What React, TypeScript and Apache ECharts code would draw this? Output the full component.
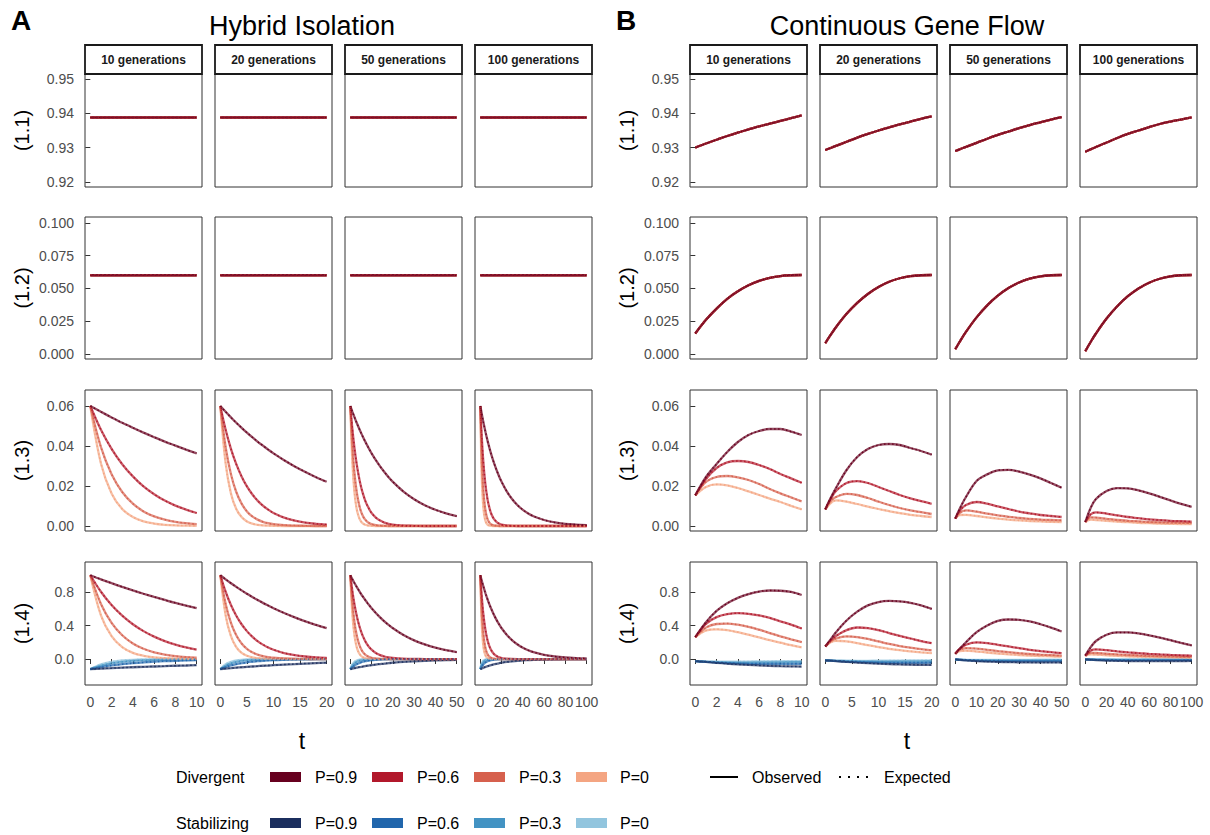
import React, { useEffect, useRef } from "react";
import * as echarts from "echarts";

// ---------- categories / ticks ----------
const spans = [10, 20, 50, 100];
const spanLabels = ["10 generations", "20 generations", "50 generations", "100 generations"];
const xTicks = [
  [0, 2, 4, 6, 8, 10],
  [0, 5, 10, 15, 20],
  [0, 10, 20, 30, 40, 50],
  [0, 20, 40, 60, 80, 100],
];
const rowLabels = ["(1.1)", "(1.2)", "(1.3)", "(1.4)"];
const yTicks = [
  [0.92, 0.93, 0.94, 0.95],
  [0, 0.025, 0.05, 0.075, 0.1],
  [0, 0.02, 0.04, 0.06],
  [0, 0.4, 0.8],
];
const yDecimals = [2, 3, 2, 1];
const yMin = [0.9185, -0.004, -0.0025, -0.31];
const yMax = [0.9515, 0.1045, 0.068, 1.158];
const pLevels = ["P=0.9", "P=0.6", "P=0.3", "P=0"];
const divergentColors = ["#67001F", "#B2182B", "#D6604D", "#F4A582"];
const stabilizingColors = ["#1B2E5E", "#2166AC", "#4393C3", "#92C5DE"];

// ---------- A: Hybrid Isolation (same trajectories, panels differ only in length) ----------
const tHybrid = [0, 1, 2, 3, 4, 5, 6, 7, 8, 9, 10, 12, 14, 16, 18, 20, 25, 30, 35, 40, 45, 50, 60, 70, 80, 90, 100];
const hybrid11Value = 0.9388;
const hybrid12Value = 0.06;
// (1.3) divergent, order P=0.9, 0.6, 0.3, 0
const hybrid13 = [
  [0.06, 0.0571, 0.0543, 0.0516, 0.0491, 0.0467, 0.0444, 0.0422, 0.0402, 0.0382, 0.0363, 0.0329, 0.0298, 0.027, 0.0244, 0.0221, 0.0172, 0.0134, 0.0104, 0.0081, 0.0063, 0.0049, 0.003, 0.0018, 0.0011, 0.0007, 0.0004],
  [0.06, 0.0481, 0.0386, 0.0309, 0.0248, 0.0198, 0.0159, 0.0127, 0.0102, 0.0082, 0.0065, 0.0042, 0.0027, 0.0017, 0.0011, 0.0007, 0.0002, 0.0001, 0, 0, 0, 0, 0, 0, 0, 0, 0],
  [0.06, 0.0394, 0.0259, 0.017, 0.0112, 0.0073, 0.0048, 0.0032, 0.0021, 0.0014, 0.0009, 0.0004, 0.0002, 0.0001, 0, 0, 0, 0, 0, 0, 0, 0, 0, 0, 0, 0, 0],
  [0.06, 0.0313, 0.0163, 0.0085, 0.0045, 0.0023, 0.0012, 0.0006, 0.0003, 0.0002, 0.0001, 0, 0, 0, 0, 0, 0, 0, 0, 0, 0, 0, 0, 0, 0, 0, 0],
];
// (1.4) divergent
const hybrid14Div = [
  [1.0, 0.951, 0.905, 0.861, 0.819, 0.779, 0.741, 0.705, 0.67, 0.638, 0.607, 0.549, 0.497, 0.449, 0.407, 0.368, 0.287, 0.223, 0.174, 0.135, 0.105, 0.082, 0.05, 0.03, 0.018, 0.011, 0.007],
  [1.0, 0.803, 0.644, 0.517, 0.415, 0.333, 0.267, 0.214, 0.172, 0.138, 0.111, 0.071, 0.046, 0.03, 0.019, 0.012, 0.004, 0.001, 0, 0, 0, 0, 0, 0, 0, 0, 0],
  [1.0, 0.657, 0.432, 0.284, 0.186, 0.122, 0.08, 0.053, 0.035, 0.023, 0.015, 0.006, 0.003, 0.001, 0, 0, 0, 0, 0, 0, 0, 0, 0, 0, 0, 0, 0],
  [1.0, 0.522, 0.273, 0.142, 0.074, 0.039, 0.02, 0.011, 0.006, 0.003, 0.002, 0.001, 0, 0, 0, 0, 0, 0, 0, 0, 0, 0, 0, 0, 0, 0, 0],
];
// (1.4) stabilizing
const hybrid14Stab = [
  [-0.12, -0.114, -0.109, -0.103, -0.098, -0.093, -0.089, -0.085, -0.08, -0.077, -0.073, -0.066, -0.06, -0.054, -0.049, -0.044, -0.034, -0.027, -0.021, -0.016, -0.013, -0.01, -0.006, -0.004, -0.002, -0.001, -0.001],
  [-0.12, -0.096, -0.077, -0.062, -0.05, -0.04, -0.032, -0.026, -0.021, -0.017, -0.013, -0.009, -0.006, -0.004, -0.002, -0.001, 0, 0, 0, 0, 0, 0, 0, 0, 0, 0, 0],
  [-0.12, -0.079, -0.052, -0.034, -0.022, -0.015, -0.01, -0.006, -0.004, -0.003, -0.002, -0.001, 0, 0, 0, 0, 0, 0, 0, 0, 0, 0, 0, 0, 0, 0, 0],
  [-0.12, -0.063, -0.033, -0.017, -0.009, -0.005, -0.002, -0.001, -0.001, 0, 0, 0, 0, 0, 0, 0, 0, 0, 0, 0, 0, 0, 0, 0, 0, 0, 0],
];

// ---------- B: Continuous Gene Flow (one time grid per panel) ----------
const gfT = [
  [0, 1, 2, 3, 4, 5, 6, 7, 8, 9, 10],
  [0, 1, 2, 4, 6, 8, 10, 12, 14, 16, 18, 20],
  [0, 2, 5, 10, 15, 20, 25, 30, 35, 40, 45, 50],
  [0, 5, 10, 20, 30, 40, 50, 60, 70, 80, 90, 100],
];
const gf11 = [
  [0.93, 0.9312, 0.9323, 0.9334, 0.9344, 0.9353, 0.9362, 0.937, 0.9378, 0.9386, 0.9394],
  [0.9293, 0.9299, 0.9305, 0.9317, 0.9329, 0.934, 0.935, 0.9359, 0.9368, 0.9376, 0.9384, 0.9391],
  [0.929, 0.9295, 0.9302, 0.9314, 0.9326, 0.9337, 0.9347, 0.9357, 0.9366, 0.9374, 0.9382, 0.9389],
  [0.9288, 0.9295, 0.9302, 0.9315, 0.9328, 0.934, 0.935, 0.936, 0.9369, 0.9376, 0.9382, 0.9388],
];
const gf12 = [
  [0.0155, 0.0259, 0.0345, 0.0419, 0.0477, 0.0523, 0.0557, 0.058, 0.0594, 0.06, 0.0602],
  [0.0082, 0.0144, 0.0203, 0.0305, 0.0389, 0.0457, 0.051, 0.055, 0.0577, 0.0593, 0.06, 0.0602],
  [0.0035, 0.009, 0.0167, 0.0278, 0.037, 0.0444, 0.0502, 0.0545, 0.0574, 0.0592, 0.06, 0.0602],
  [0.002, 0.009, 0.0155, 0.0269, 0.0363, 0.044, 0.0499, 0.0543, 0.0573, 0.0592, 0.06, 0.0602],
];
// (1.3) per panel, order P=0.9, 0.6, 0.3, 0
const gf13 = [
  [
    [0.0153, 0.0245, 0.031, 0.037, 0.042, 0.0455, 0.0475, 0.0485, 0.0485, 0.0472, 0.0455],
    [0.0153, 0.0235, 0.029, 0.0318, 0.0325, 0.032, 0.0305, 0.0285, 0.026, 0.0238, 0.0216],
    [0.0153, 0.022, 0.0245, 0.025, 0.0243, 0.023, 0.021, 0.0185, 0.0163, 0.0143, 0.0123],
    [0.0153, 0.0195, 0.0208, 0.0203, 0.019, 0.0173, 0.0155, 0.0137, 0.012, 0.0101, 0.0083],
  ],
  [
    [0.0083, 0.014, 0.019, 0.028, 0.0345, 0.0385, 0.0405, 0.041, 0.0405, 0.039, 0.0375, 0.0357],
    [0.0083, 0.0135, 0.0175, 0.0215, 0.0224, 0.0215, 0.0195, 0.0175, 0.0155, 0.0138, 0.0124, 0.0111],
    [0.0083, 0.0125, 0.0145, 0.0161, 0.0155, 0.014, 0.0122, 0.0105, 0.009, 0.0078, 0.0069, 0.006],
    [0.0083, 0.0115, 0.0128, 0.0122, 0.011, 0.0097, 0.0085, 0.0074, 0.0064, 0.0056, 0.005, 0.0045],
  ],
  [
    [0.0037, 0.0085, 0.0145, 0.0225, 0.0258, 0.0278, 0.0281, 0.0272, 0.0257, 0.0238, 0.0215, 0.0191],
    [0.0037, 0.0075, 0.0105, 0.012, 0.0112, 0.0098, 0.0085, 0.0072, 0.0063, 0.0055, 0.005, 0.0045],
    [0.0037, 0.0065, 0.0078, 0.0072, 0.0062, 0.0053, 0.0046, 0.004, 0.0036, 0.0032, 0.003, 0.0028],
    [0.0037, 0.0055, 0.0056, 0.005, 0.0043, 0.0037, 0.0032, 0.0028, 0.0025, 0.0023, 0.0021, 0.002],
  ],
  [
    [0.002, 0.009, 0.0135, 0.0175, 0.0189, 0.0188, 0.0178, 0.0163, 0.0146, 0.0128, 0.0111, 0.0096],
    [0.002, 0.0058, 0.0068, 0.0062, 0.0053, 0.0045, 0.0039, 0.0033, 0.0029, 0.0026, 0.0024, 0.0022],
    [0.002, 0.0043, 0.0042, 0.0036, 0.003, 0.0026, 0.0023, 0.002, 0.0018, 0.0017, 0.0016, 0.0015],
    [0.002, 0.0032, 0.003, 0.0026, 0.0022, 0.0019, 0.0016, 0.0014, 0.0012, 0.0011, 0.001, 0.001],
  ],
];
// (1.4) divergent per panel
const gf14Div = [
  [
    [0.261, 0.44, 0.575, 0.665, 0.73, 0.775, 0.805, 0.818, 0.815, 0.8, 0.764],
    [0.261, 0.42, 0.5, 0.535, 0.547, 0.54, 0.52, 0.49, 0.45, 0.41, 0.364],
    [0.261, 0.375, 0.418, 0.423, 0.41, 0.385, 0.35, 0.31, 0.27, 0.235, 0.202],
    [0.261, 0.34, 0.355, 0.345, 0.32, 0.29, 0.258, 0.225, 0.195, 0.165, 0.139],
  ],
  [
    [0.15, 0.235, 0.32, 0.46, 0.565, 0.64, 0.68, 0.693, 0.688, 0.67, 0.64, 0.598],
    [0.15, 0.22, 0.275, 0.345, 0.376, 0.37, 0.345, 0.31, 0.275, 0.245, 0.215, 0.19],
    [0.15, 0.21, 0.245, 0.27, 0.262, 0.24, 0.21, 0.18, 0.155, 0.135, 0.118, 0.103],
    [0.15, 0.2, 0.218, 0.21, 0.19, 0.165, 0.142, 0.122, 0.105, 0.092, 0.08, 0.07],
  ],
  [
    [0.063, 0.12, 0.2, 0.32, 0.4, 0.455, 0.472, 0.468, 0.448, 0.415, 0.375, 0.329],
    [0.063, 0.12, 0.17, 0.198, 0.19, 0.17, 0.15, 0.13, 0.11, 0.095, 0.082, 0.071],
    [0.063, 0.11, 0.13, 0.125, 0.11, 0.095, 0.082, 0.07, 0.06, 0.052, 0.046, 0.04],
    [0.063, 0.095, 0.1, 0.09, 0.078, 0.066, 0.056, 0.048, 0.041, 0.036, 0.032, 0.028],
  ],
  [
    [0.04, 0.14, 0.215, 0.29, 0.318, 0.318, 0.305, 0.283, 0.256, 0.225, 0.193, 0.162],
    [0.04, 0.1, 0.115, 0.105, 0.092, 0.08, 0.07, 0.062, 0.055, 0.049, 0.044, 0.04],
    [0.04, 0.073, 0.072, 0.063, 0.055, 0.048, 0.042, 0.037, 0.033, 0.03, 0.027, 0.025],
    [0.04, 0.055, 0.052, 0.045, 0.038, 0.032, 0.028, 0.024, 0.021, 0.019, 0.017, 0.015],
  ],
];
// (1.4) stabilizing per panel
const gf14Stab = [
  [
    [-0.025, -0.035, -0.045, -0.055, -0.063, -0.07, -0.076, -0.081, -0.085, -0.088, -0.09],
    [-0.025, -0.034, -0.042, -0.048, -0.053, -0.056, -0.058, -0.059, -0.059, -0.058, -0.057],
    [-0.025, -0.032, -0.037, -0.04, -0.042, -0.042, -0.041, -0.04, -0.039, -0.037, -0.036],
    [-0.025, -0.029, -0.031, -0.032, -0.031, -0.03, -0.029, -0.027, -0.026, -0.025, -0.024],
  ],
  [
    [-0.015, -0.02, -0.025, -0.034, -0.042, -0.049, -0.055, -0.06, -0.064, -0.067, -0.069, -0.07],
    [-0.015, -0.019, -0.023, -0.03, -0.035, -0.039, -0.042, -0.044, -0.045, -0.045, -0.045, -0.044],
    [-0.015, -0.018, -0.021, -0.025, -0.028, -0.029, -0.03, -0.03, -0.029, -0.028, -0.027, -0.026],
    [-0.015, -0.017, -0.019, -0.02, -0.021, -0.021, -0.02, -0.019, -0.018, -0.017, -0.016, -0.015],
  ],
  [
    [-0.005, -0.01, -0.016, -0.024, -0.03, -0.034, -0.037, -0.039, -0.04, -0.041, -0.041, -0.041],
    [-0.005, -0.009, -0.014, -0.019, -0.022, -0.024, -0.025, -0.025, -0.025, -0.024, -0.024, -0.023],
    [-0.005, -0.008, -0.011, -0.014, -0.015, -0.016, -0.016, -0.016, -0.015, -0.015, -0.014, -0.014],
    [-0.005, -0.007, -0.009, -0.01, -0.01, -0.01, -0.01, -0.009, -0.009, -0.008, -0.008, -0.008],
  ],
  [
    [-0.003, -0.008, -0.012, -0.018, -0.022, -0.024, -0.025, -0.025, -0.025, -0.024, -0.024, -0.023],
    [-0.003, -0.007, -0.009, -0.012, -0.013, -0.014, -0.014, -0.014, -0.013, -0.013, -0.012, -0.012],
    [-0.003, -0.005, -0.007, -0.008, -0.009, -0.009, -0.009, -0.008, -0.008, -0.008, -0.007, -0.007],
    [-0.003, -0.004, -0.005, -0.005, -0.005, -0.005, -0.005, -0.005, -0.004, -0.004, -0.004, -0.004],
  ],
];

// ---------- layout ----------
const FONT = "'Liberation Sans', Arial, Helvetica, sans-serif";
const panelColLefts = [
  [85, 215, 345, 475],
  [690, 820, 950, 1080],
];
const colWidth = 117;
const rowTops = [74, 217, 390, 562];
const rowHeights = [113, 142, 141, 123];
const panelTitles = ["Hybrid Isolation", "Continuous Gene Flow"];
const panelLetters = ["A", "B"];
const panelCenters = [302, 907];
const rowLabelX = [22, 627];

function buildOption() {
  const grid: any[] = [];
  const xAxis: any[] = [];
  const yAxis: any[] = [];
  const series: any[] = [];
  const graphic: any[] = [];

  const addPair = (gi: number, data: number[][], color: string) => {
    series.push({
      type: "line", xAxisIndex: gi, yAxisIndex: gi, data, symbol: "none", showSymbol: false,
      smooth: 0.35, silent: true, z: 2,
      lineStyle: { color, width: 2.3, opacity: 0.7 },
    });
    series.push({
      type: "line", xAxisIndex: gi, yAxisIndex: gi, data, symbol: "none", showSymbol: false,
      smooth: 0.35, silent: true, z: 3,
      lineStyle: { color, width: 1.5, opacity: 0.95, type: [1.5, 2.5] },
    });
  };

  for (let p = 0; p < 2; p++) {
    for (let r = 0; r < 4; r++) {
      for (let c = 0; c < 4; c++) {
        const gi = grid.length;
        const span = spans[c];
        grid.push({
          left: panelColLefts[p][c], top: rowTops[r], width: colWidth, height: rowHeights[r],
          show: true, borderColor: "#333333", borderWidth: 1, backgroundColor: "transparent",
        });
        xAxis.push({
          gridIndex: gi, type: "value", min: -span * 0.05, max: span * 1.05,
          axisLine: { show: false }, splitLine: { show: false },
          axisTick: { show: r === 3, length: 5, lineStyle: { color: "#333333", width: 1 }, customValues: xTicks[c] },
          axisLabel: {
            show: r === 3, customValues: xTicks[c], color: "#4D4D4D", fontSize: 14, fontFamily: FONT, margin: 10,
            formatter: (v: number) => String(v),
          },
        });
        yAxis.push({
          gridIndex: gi, type: "value", min: yMin[r], max: yMax[r],
          axisLine: { show: false }, splitLine: { show: false },
          axisTick: { show: c === 0, length: 5, lineStyle: { color: "#333333", width: 1 }, customValues: yTicks[r] },
          axisLabel: {
            show: c === 0, customValues: yTicks[r], color: "#4D4D4D", fontSize: 14, fontFamily: FONT, margin: 11,
            formatter: (v: number) => v.toFixed(yDecimals[r]),
          },
        });

        if (p === 0) {
          const idx = tHybrid.map((t, i) => i).filter((i) => tHybrid[i] <= span);
          const mk = (arr: number[]) => idx.map((i) => [tHybrid[i], arr[i]]);
          if (r === 0 || r === 1) {
            const v = r === 0 ? hybrid11Value : hybrid12Value;
            for (let k = 3; k >= 0; k--) addPair(gi, idx.map((i) => [tHybrid[i], v]), divergentColors[k]);
          } else if (r === 2) {
            for (let k = 3; k >= 0; k--) addPair(gi, mk(hybrid13[k]), divergentColors[k]);
          } else {
            for (let k = 3; k >= 0; k--) addPair(gi, mk(hybrid14Stab[k]), stabilizingColors[k]);
            for (let k = 3; k >= 0; k--) addPair(gi, mk(hybrid14Div[k]), divergentColors[k]);
          }
        } else {
          const ts = gfT[c];
          const mk = (arr: number[]) => ts.map((t, i) => [t, arr[i]]);
          if (r === 0) {
            for (let k = 3; k >= 0; k--) addPair(gi, mk(gf11[c]), divergentColors[k]);
          } else if (r === 1) {
            for (let k = 3; k >= 0; k--) addPair(gi, mk(gf12[c]), divergentColors[k]);
          } else if (r === 2) {
            for (let k = 3; k >= 0; k--) addPair(gi, mk(gf13[c][k]), divergentColors[k]);
          } else {
            for (let k = 3; k >= 0; k--) addPair(gi, mk(gf14Stab[c][k]), stabilizingColors[k]);
            for (let k = 3; k >= 0; k--) addPair(gi, mk(gf14Div[c][k]), divergentColors[k]);
          }
        }
      }
      // row label
      graphic.push({
        type: "text", x: rowLabelX[p], y: rowTops[r] + rowHeights[r] / 2, rotation: Math.PI / 2,
        style: {
          text: rowLabels[r], fontSize: 20, fontFamily: FONT, fill: "#000",
          align: "center", verticalAlign: "middle", textAlign: "center", textVerticalAlign: "middle",
        },
      });
    }
    // strips
    for (let c = 0; c < 4; c++) {
      const x = panelColLefts[p][c];
      graphic.push({
        type: "rect", shape: { x, y: 45, width: colWidth, height: 29 },
        style: { fill: "#ffffff", stroke: "#1a1a1a", lineWidth: 1.8 }, z: 10,
      });
      graphic.push({
        type: "text", x: x + colWidth / 2, y: 60, z: 11,
        style: {
          text: spanLabels[c], fontSize: 12, fontWeight: "bold", fontFamily: FONT, fill: "#1a1a1a",
          align: "center", verticalAlign: "middle", textAlign: "center", textVerticalAlign: "middle",
        },
      });
    }
    // titles
    graphic.push({
      type: "text", x: panelCenters[p], y: 26,
      style: {
        text: panelTitles[p], fontSize: 27, fontFamily: FONT, fill: "#000",
        align: "center", verticalAlign: "middle", textAlign: "center", textVerticalAlign: "middle",
      },
    });
    graphic.push({
      type: "text", x: rowLabelX[p] - 1, y: 20,
      style: {
        text: panelLetters[p], fontSize: 28, fontWeight: "bold", fontFamily: FONT, fill: "#000",
        align: "center", verticalAlign: "middle", textAlign: "center", textVerticalAlign: "middle",
      },
    });
    graphic.push({
      type: "text", x: panelCenters[p], y: 741,
      style: {
        text: "t", fontSize: 23, fontFamily: FONT, fill: "#000",
        align: "center", verticalAlign: "middle", textAlign: "center", textVerticalAlign: "middle",
      },
    });
  }

  // legend
  const legendRows = [
    { title: "Divergent", colors: divergentColors, y: 777 },
    { title: "Stabilizing", colors: stabilizingColors, y: 823 },
  ];
  const swatchX = [270, 372, 474, 576];
  const labelX = [315, 417, 519, 620];
  for (const row of legendRows) {
    graphic.push({
      type: "text", x: 176, y: row.y,
      style: { text: row.title, fontSize: 16, fontFamily: FONT, fill: "#000", align: "left", verticalAlign: "middle", textAlign: "left", textVerticalAlign: "middle" },
    });
    for (let k = 0; k < 4; k++) {
      graphic.push({
        type: "rect", shape: { x: swatchX[k], y: row.y - 5, width: 31, height: 10 },
        style: { fill: row.colors[k] },
      });
      graphic.push({
        type: "text", x: labelX[k], y: row.y,
        style: { text: pLevels[k], fontSize: 16, fontFamily: FONT, fill: "#000", align: "left", verticalAlign: "middle", textAlign: "left", textVerticalAlign: "middle" },
      });
    }
  }
  graphic.push({ type: "line", shape: { x1: 710, y1: 777, x2: 738, y2: 777 }, style: { stroke: "#000", lineWidth: 2 } });
  graphic.push({
    type: "text", x: 752, y: 777,
    style: { text: "Observed", fontSize: 16, fontFamily: FONT, fill: "#000", align: "left", verticalAlign: "middle", textAlign: "left", textVerticalAlign: "middle" },
  });
  graphic.push({ type: "line", shape: { x1: 839, y1: 777, x2: 870, y2: 777 }, style: { stroke: "#000", lineWidth: 2, lineDash: [2, 7] } });
  graphic.push({
    type: "text", x: 884, y: 777,
    style: { text: "Expected", fontSize: 16, fontFamily: FONT, fill: "#000", align: "left", verticalAlign: "middle", textAlign: "left", textVerticalAlign: "middle" },
  });

  return {
    animation: false,
    backgroundColor: "#ffffff",
    textStyle: { fontFamily: FONT },
    grid, xAxis, yAxis, series, graphic,
  };
}

export default function App() {
  const ref = useRef<HTMLDivElement>(null);
  useEffect(() => {
    if (!ref.current) return;
    const chart = echarts.init(ref.current, undefined, { renderer: "svg" });
    chart.setOption(buildOption() as any);
    return () => chart.dispose();
  }, []);
  return (
    <div
      ref={ref}
      style={{ position: "fixed", left: 0, top: 0, width: 1210, height: 835, background: "#fff" }}
    />
  );
}
